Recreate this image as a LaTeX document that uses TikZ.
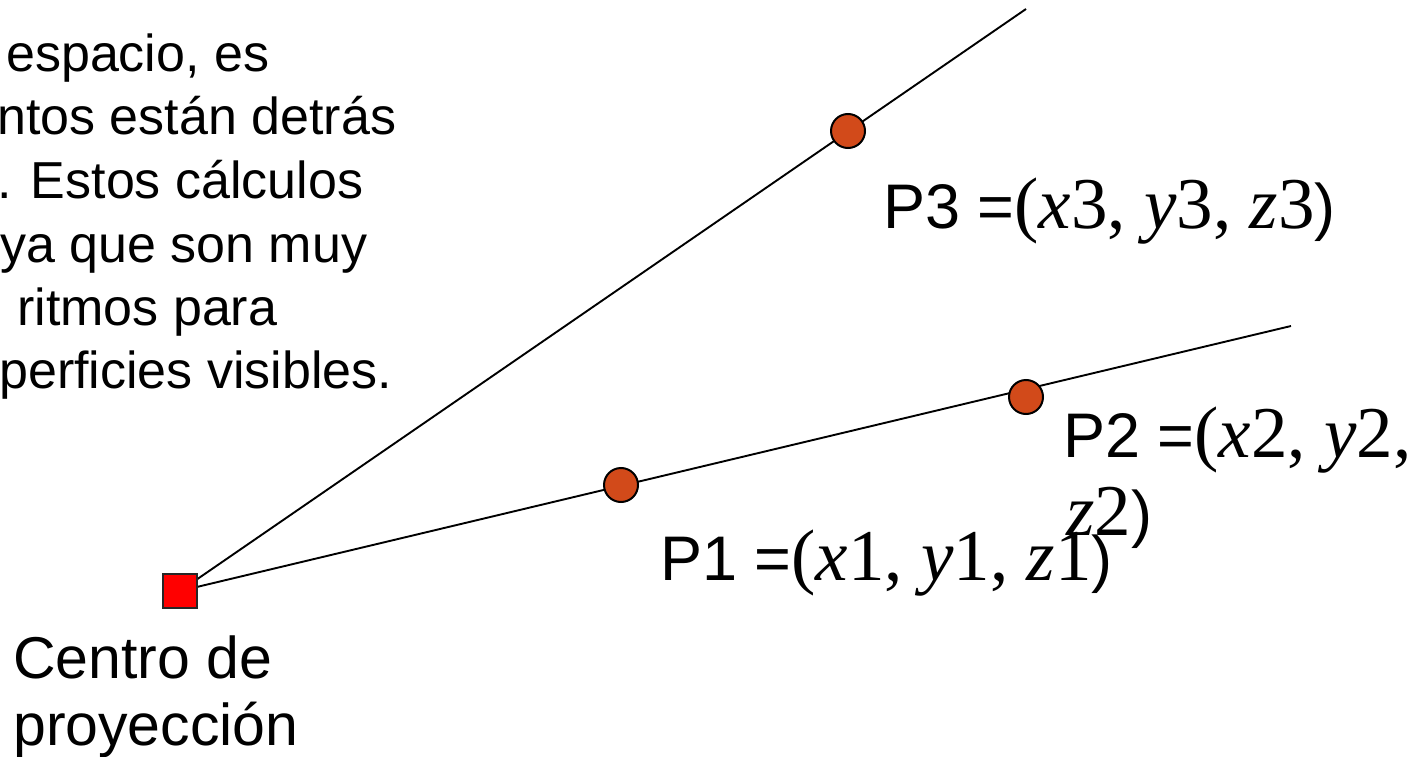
\documentclass[tikz,border=0pt]{standalone}
\usepackage{fontspec}
\setmainfont{Liberation Sans}
\newfontfamily\tms{Liberation Serif}
\newcommand\coordfont{\tms\fontsize{73}{78}\selectfont}
\usetikzlibrary{calc}
\definecolor{puntocol}{RGB}{210,74,26}

\begin{document}
\begin{tikzpicture}[x=1pt, y=-1pt,
    ray/.style={line width=1.9pt, black},
    punto/.style={circle, draw=black, line width=2pt, fill=puntocol, minimum size=34pt, inner sep=0pt},
    txt/.style={anchor=base west, inner sep=0pt, font=\fontsize{52}{63}\selectfont},
    cpt/.style={anchor=base west, inner sep=0pt, font=\fontsize{59}{67}\selectfont},
    etq/.style={anchor=base west, inner sep=0pt, font=\fontsize{63}{78}\selectfont}]
    \useasboundingbox (0,0) rectangle (1422,757);

    % texto cortado a la izquierda
    \node[txt] (t1) at (6,72) {espacio, es};
    \node[txt] (t2) at (-3,135) {ntos están detrás};
    \node[txt] (t3) at (-3,198) {. Estos cálculos};
    \node[txt] (t4) at (0,262) {ya que son muy};
    \node[txt] (t5) at (17,325) {ritmos para};
    \node[txt] (t6) at (-1,388) {perficies visibles.};

    % rayos desde el centro de proyeccion
    \coordinate (O) at (180,591);
    \coordinate (R3) at (1026,9);
    \coordinate (R2) at (1291,326);
    \draw[ray] (O) -- (R3);
    \draw[ray] (O) -- (R2);

    \node[draw=black!85, fill=red, line width=1.8pt, minimum size=34pt, inner sep=0pt] (C) at (O) {};
    \node[cpt] (c1) at (13,678) {Centro de};
    \node[cpt] (c2) at (13,745) {proyección};

    % puntos
    \node[punto] (P1) at (621,485) {};
    \node[punto] (P2) at (1026,397) {};
    \node[punto] (P3) at (848,131) {};

    \node[etq] (l3) at (883,228) {P3 ={\coordfont(\textit{x}3, \textit{y}3, \textit{z}3})};
    \node[etq] (l2a) at (1063,457) {P2 ={\coordfont(\textit{x}2, \textit{y}2,}};
    \node[etq] (l2b) at (1066,535) {{\coordfont\textit{z}2})};
    \node[etq] (l1) at (660,580) {P1 ={\coordfont(\textit{x}1, \textit{y}1, \textit{z}1})};
\end{tikzpicture}
\end{document}
